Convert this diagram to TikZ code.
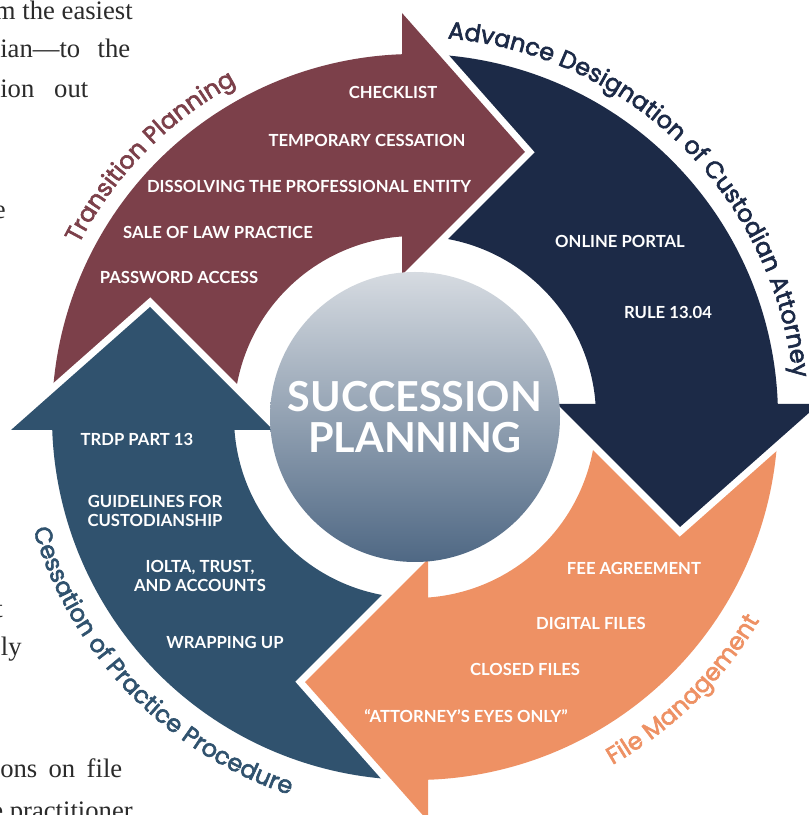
\documentclass[tikz,border=0pt]{standalone}
\usepackage{fontspec}
\setmainfont{Lato}
\newfontfamily\curvefont[FakeBold=2.5]{Poppins}
\newfontfamily\pagefont{Liberation Serif}
\usepackage{xcolor}
\usetikzlibrary{decorations.text}

\definecolor{transred}{HTML}{7C404A}
\definecolor{custnavy}{HTML}{1C2A47}
\definecolor{fileorange}{HTML}{EE9164}
\definecolor{cessblue}{HTML}{30526E}
\definecolor{hubtop}{HTML}{D6DBE1}
\definecolor{hubbottom}{HTML}{4F6884}
\definecolor{pagegray}{HTML}{2B2B2B}

\begin{document}
\begin{tikzpicture}[
            x=0.75pt, y=0.75pt,
            item/.style={text=white, font=\bfseries\fontsize{12.5}{14.5}\selectfont, align=center, inner sep=0pt},
            pageline/.style={anchor=base west, inner sep=0pt, text=pagegray, font=\pagefont\fontsize{20}{20}\selectfont},
            gapline/.style={white, line width=10.5pt, line join=miter}
        ]
            \useasboundingbox (0,0) rectangle (808,815);
            \fill[white] (0,0) rectangle (808,815);
            \coordinate (C) at (415,398);

            % --- PAGE TEXT CUT AT THE LEFT EDGE ---
            \node[pageline, anchor=base east] (line1) at (133,795) {m the easiest};
            \node[pageline] (line2) at (0,757) {\makebox[97.5pt][s]{ian—to the}};
            \node[pageline] (line3) at (0,717) {\makebox[66pt][s]{ion out}};
            \node[pageline, anchor=base east] (line4) at (6,596) {e};
            \node[pageline, anchor=base east] (line5) at (3,197) {t};
            \node[pageline, anchor=base east] (line6) at (22,159) {ly};
            \node[pageline] (line7) at (0,37) {\makebox[91.5pt][s]{ons on file}};
            \node[pageline, anchor=base east] (line8) at (133,-5) {e practitioner};

            % --- RING: bodies first, heads on top ---
            \foreach \rot/\col in {0/transred, -90/custnavy, -180/fileorange, 90/cessblue}{
                \begin{scope}[shift={(C)}, rotate=\rot]
                    \fill[\col] (184:181) -- (182:363) arc[start angle=182, end angle=91, radius=363]
                        -- (92:181) arc[start angle=92, end angle=184, radius=181] -- cycle;
                \end{scope}
            }
            \foreach \rot/\col in {0/transred, -90/custnavy, -180/fileorange, 90/cessblue}{
                \begin{scope}[shift={(C)}, rotate=\rot]
                    \draw[gapline] (-13,404) -- (110,265) -- (-13,142);
                    \fill[\col] (-13,404) -- (110,265) -- (-13,142) -- cycle;
                \end{scope}
            }

            % --- CENTRE ---
            \shade[top color=hubtop, bottom color=hubbottom] (C) circle[radius=145];
            \node[text=white, font=\bfseries\fontsize{31}{31}\selectfont, align=center] (hub) at (C) {SUCCESSION\\PLANNING};

            % --- TRANSITION PLANNING ---
            \node[item] (checklist) at (393,723) {CHECKLIST};
            \node[item] (tempcess) at (367,675) {TEMPORARY CESSATION};
            \node[item] (dissolve) at (309,629) {DISSOLVING THE PROFESSIONAL ENTITY};
            \node[item] (sale) at (218,583) {SALE OF LAW PRACTICE};
            \node[item] (password) at (179,538) {PASSWORD ACCESS};

            % --- ADVANCE DESIGNATION ---
            \node[item] (portal) at (620,574) {ONLINE PORTAL};
            \node[item] (rule) at (668,503) {RULE 13.04};

            % --- FILE MANAGEMENT ---
            \node[item] (fee) at (634,247) {FEE AGREEMENT};
            \node[item] (digital) at (591,192) {DIGITAL FILES};
            \node[item] (closed) at (525,146) {CLOSED FILES};
            \node[item] (eyesonly) at (466,99) {“ATTORNEY’S EYES ONLY”};

            % --- CESSATION OF PRACTICE ---
            \node[item] (trdp) at (137,376) {TRDP PART 13};
            \node[item] (guidelines) at (155,304) {GUIDELINES FOR\\CUSTODIANSHIP};
            \node[item] (iolta) at (200,239) {IOLTA, TRUST,\\AND ACCOUNTS};
            \node[item] (wrapping) at (225,173) {WRAPPING UP};

            % --- CURVED TITLES ---
            \path[decorate, decoration={text along path, text align=center, text color=transred,
                text={|\curvefont\fontsize{18}{18}\selectfont|Transition Planning}}]
                (C) ++(170:378) arc[start angle=170, end angle=101, radius=378];
            \path[decorate, decoration={text along path, text align=center, text color=custnavy,
                text={|\curvefont\fontsize{18}{18}\selectfont|Advance Designation of Custodian Attorney}}]
                (C) ++(95:380) arc[start angle=95, end angle=-4, radius=380];
            \path[decorate, decoration={text along path, text align=center, text color=fileorange,
                text={|\curvefont\fontsize{18}{18}\selectfont|File Management}}]
                (C) ++(-80:400) arc[start angle=-80, end angle=-11, radius=400];
            \path[decorate, decoration={text along path, text align=center, text color=cessblue,
                text={|\curvefont\fontsize{18}{18}\selectfont|Cessation of Practice Procedure}}]
                (C) ++(180:398) arc[start angle=180, end angle=268, radius=398];

        \end{tikzpicture}
\end{document}
